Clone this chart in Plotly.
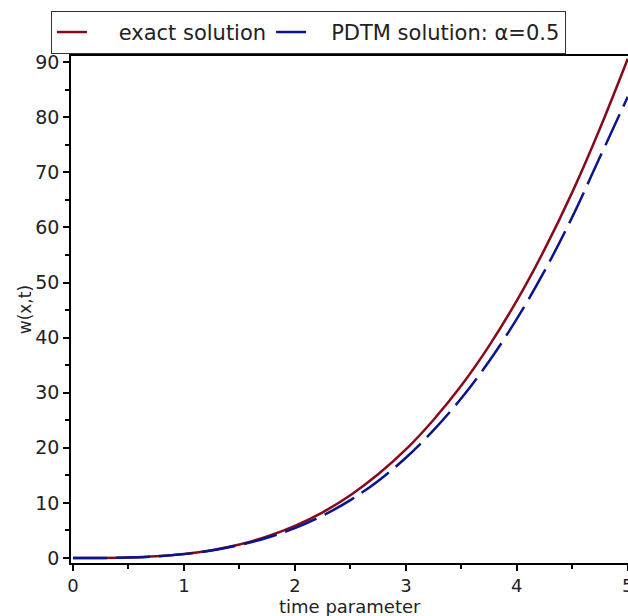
import plotly.graph_objects as go

# time parameter samples
t_vals = [0, 0.25, 0.5, 0.75, 1.0, 1.25, 1.5, 1.75, 2.0, 2.25, 2.5,
          2.75, 3.0, 3.25, 3.5, 3.75, 4.0, 4.25, 4.5, 4.75, 5.0]
# exact solution
exact_vals = [0.0, 0.01, 0.09, 0.31, 0.73, 1.43, 2.46, 3.91, 5.84, 8.3, 11.4,
              15.2, 19.7, 25.1, 31.3, 38.5, 46.7, 56.0, 66.4, 78.0, 90.6]
# PDTM solution, alpha = 0.5
pdtm_vals = [0.0, 0.01, 0.09, 0.30, 0.71, 1.37, 2.34, 3.68, 5.43, 7.7, 10.5,
             14.0, 18.2, 23.2, 29.0, 35.7, 43.4, 52.1, 61.9, 72.8, 83.7]

x_ticks = [0, 1, 2, 3, 4, 5]
y_ticks = [0, 10, 20, 30, 40, 50, 60, 70, 80, 90]
x_title = "time parameter"
y_title = "w(x,t)"

FONT = "DejaVu Sans"
TXT = "#222222"
NB = "\u00a0"

fig = go.Figure()
fig.add_trace(go.Scatter(
    x=t_vals, y=exact_vals, mode="lines", name=NB * 4 + "exact solution",
    line=dict(color="#860a1c", width=2.5, shape="spline"),
))
fig.add_trace(go.Scatter(
    x=t_vals, y=pdtm_vals, mode="lines", name=NB * 3 + "PDTM solution: α=0.5",
    line=dict(color="#0a148c", width=2.5, dash="34px,9px", shape="spline"),
))

fig.update_layout(
    width=628, height=616,
    margin=dict(l=71, r=0, t=56, b=53),
    paper_bgcolor="white", plot_bgcolor="white",
    font=dict(family=FONT, size=18, color=TXT),
    showlegend=True,
    legend=dict(
        orientation="h", x=-0.036, xanchor="left", y=1.089, yanchor="top",
        bordercolor="#333333", borderwidth=1, bgcolor="white",
        font=dict(family=FONT, size=21, color=TXT),
        itemwidth=30, tracegroupgap=0,
    ),
    xaxis=dict(
        range=[-0.018, 5.002], tickvals=x_ticks, ticktext=[str(v) for v in x_ticks],
        showgrid=False, zeroline=False,
        showline=True, linecolor="black", linewidth=1.5, mirror=True,
        ticks="outside", ticklen=6, tickwidth=1.5, tickcolor="black",
        minor=dict(dtick=0.5, tick0=0, ticks="outside", ticklen=4, tickwidth=1.5,
                   tickcolor="black", showgrid=False),
        tickfont=dict(family=FONT, size=18, color=TXT),
        ticklabeloverflow="allow",
        automargin=False,
    ),
    yaxis=dict(
        range=[-0.9, 91.1], tickvals=y_ticks, ticktext=[str(v) for v in y_ticks],
        showgrid=False, zeroline=False,
        showline=True, linecolor="black", linewidth=1.5, mirror=True,
        ticks="outside", ticklen=6, tickwidth=1.5, tickcolor="black",
        minor=dict(dtick=5, tick0=0, ticks="outside", ticklen=4, tickwidth=1.5,
                   tickcolor="black", showgrid=False),
        tickfont=dict(family=FONT, size=19, color=TXT),
        automargin=False,
    ),
    annotations=[
        dict(text=x_title, xref="paper", yref="paper", x=0.501,
             y=-0.0855, xanchor="center", yanchor="middle", showarrow=False,
             font=dict(family=FONT, size=18, color=TXT)),
        dict(text=y_title, xref="paper", yref="paper", x=-0.083, y=0.5,
             xanchor="center", yanchor="middle", textangle=-90, showarrow=False,
             font=dict(family=FONT, size=17, color=TXT)),
    ],
)

fig.write_html("out.html")
